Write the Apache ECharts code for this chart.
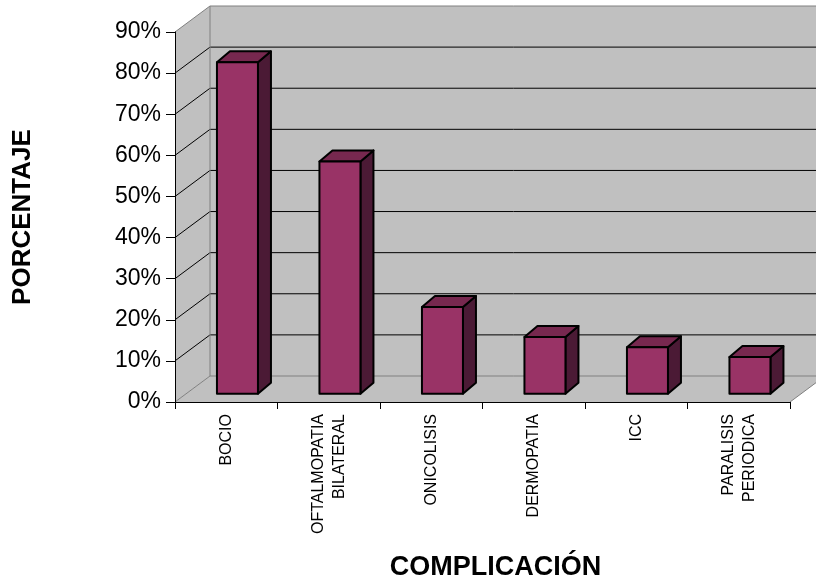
<!DOCTYPE html>
<html>
<head>
<meta charset="utf-8">
<script src="https://cdn.jsdelivr.net/npm/echarts@6/dist/echarts.min.js"></script>
<style>html,body{margin:0;padding:0;background:#fff}#c{width:816px;height:579px}</style>
</head>
<body>
<div id="c"></div>
<script>
// ---- data ----
const categories = ['BOCIO', 'OFTALMOPATIA\nBILATERAL', 'ONICOLISIS', 'DERMOPATIA', 'ICC', 'PARALISIS\nPERIODICA'];
const values = [80.6, 56.5, 21.1, 13.8, 11.3, 8.9];
const yTicks = [0, 10, 20, 30, 40, 50, 60, 70, 80, 90];
const yTitle = 'PORCENTAJE';
const xTitle = 'COMPLICACIÓN';

// ---- 3D look ----
const DX = 35, DY = -26;          // depth of the floor/side wall
const F = 0.32;                   // bar front-plane depth fraction
const BDX = 13, BDY = -11;        // bar depth
const BARW = 0.4;                 // bar width as fraction of band

const yMin = yTicks[0], yMax = yTicks[yTicks.length - 1];
const FONT = '"Liberation Sans", Arial, sans-serif';

const chart = echarts.init(document.getElementById('c'), null, {renderer: 'canvas'});

function renderWalls(params, api) {
  const bw = api.size([1, 0])[0];
  const p0 = api.coord([0, yMin]);
  const x0 = p0[0] - bw / 2;
  const x1 = x0 + bw * categories.length;
  const y0 = p0[1];
  const yT = api.coord([0, yMax])[1];
  const wall = '#c0c0c0', edge = '#808080';
  const children = [];
  children.push({type: 'polygon', shape: {points: [[x0, y0], [x1, y0], [x1 + DX, y0 + DY], [x0 + DX, y0 + DY]]},
    style: {fill: wall, stroke: null}});
  children.push({type: 'polygon', shape: {points: [[x0, y0], [x0, yT], [x0 + DX, yT + DY], [x0 + DX, y0 + DY]]},
    style: {fill: wall, stroke: null}});
  children.push({type: 'rect', shape: {x: x0 + DX, y: yT + DY, width: x1 - x0, height: y0 - yT},
    style: {fill: wall, stroke: null}});
  yTicks.forEach(function (v) {
    const y = api.coord([0, v])[1];
    const isEdge = (v === yMin || v === yMax);
    const col = isEdge ? edge : '#000';
    children.push({type: 'line', shape: {x1: x0 + DX, y1: y + DY, x2: x1 + DX, y2: y + DY},
      style: {stroke: col, lineWidth: 1}});
    children.push({type: 'line', shape: {x1: x0, y1: y, x2: x0 + DX, y2: y + DY},
      style: {stroke: col, lineWidth: 1}});
  });
  children.push({type: 'line', shape: {x1: x0 + DX, y1: y0 + DY, x2: x0 + DX, y2: yT + DY}, style: {stroke: edge, lineWidth: 1}});
  children.push({type: 'line', shape: {x1: x1, y1: y0, x2: x1 + DX, y2: y0 + DY}, style: {stroke: edge, lineWidth: 1}});
  return {type: 'group', children: children};
}

function renderBar(params, api) {
  const i = api.value(0), v = api.value(1);
  const bw = api.size([1, 0])[0];
  const c = api.coord([i, v]);
  const b = api.coord([i, yMin]);
  const w = bw * BARW;
  const left = c[0] + F * DX - w / 2, right = left + w;
  const top = c[1] + F * DY, bottom = b[1] + F * DY;
  const st = {stroke: '#000', lineWidth: 2, lineJoin: 'round'};
  return {type: 'group', children: [
    {type: 'polygon', shape: {points: [[right, top], [right + BDX, top + BDY], [right + BDX, bottom + BDY], [right, bottom]]},
      style: Object.assign({fill: '#4b1a35'}, st)},
    {type: 'polygon', shape: {points: [[left, top], [right, top], [right + BDX, top + BDY], [left + BDX, top + BDY]]},
      style: Object.assign({fill: '#77284f'}, st)},
    {type: 'rect', shape: {x: left, y: top, width: w, height: bottom - top},
      style: Object.assign({fill: '#993366'}, st)}
  ]};
}

chart.setOption({
  backgroundColor: '#ffffff',
  animation: false,
  grid: {left: 175, right: 26, top: 32, bottom: 177, containLabel: false, outerBoundsMode: 'none'},
  xAxis: {
    type: 'category',
    data: categories,
    boundaryGap: true,
    axisLine: {show: true, lineStyle: {color: '#000', width: 1}},
    axisTick: {show: true, length: 7, lineStyle: {color: '#000'}},
    axisLabel: {rotate: 90, interval: 0, margin: 12, fontSize: 16, lineHeight: 21, color: '#000', fontFamily: FONT},
    splitLine: {show: false},
    name: xTitle,
    nameLocation: 'middle',
    nameGap: 152,
    nameTextStyle: {fontSize: 27, fontWeight: 'bold', color: '#000', fontFamily: FONT, padding: [0, 0, 0, 26]}
  },
  yAxis: {
    type: 'value',
    min: yMin, max: yMax, interval: 10,
    axisLine: {show: true, lineStyle: {color: '#000', width: 1}},
    axisTick: {show: true, length: 9, lineStyle: {color: '#000'}},
    axisLabel: {formatter: '{value}%', fontSize: 23, color: '#000', margin: 14, fontFamily: FONT},
    splitLine: {show: false},
    name: yTitle,
    nameLocation: 'middle',
    nameGap: 139,
    nameTextStyle: {fontSize: 26, fontWeight: 'bold', color: '#000', fontFamily: FONT}
  },
  series: [
    {type: 'custom', z: 0, silent: true, clip: false, renderItem: renderWalls, data: [[0, 0]]},
    {type: 'custom', z: 2, clip: false, renderItem: renderBar,
      encode: {x: 0, y: 1},
      data: values.map(function (v, i) { return [i, v]; })}
  ]
});
</script>
</body>
</html>
